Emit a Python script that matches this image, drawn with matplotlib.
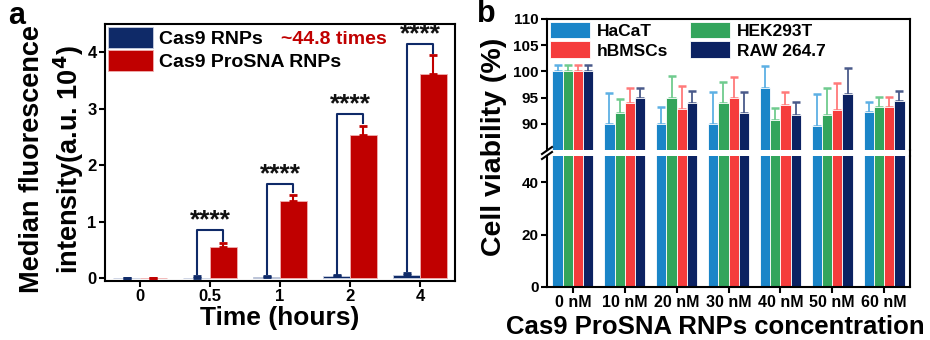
import numpy as np
import matplotlib
matplotlib.use('Agg')
import matplotlib.pyplot as plt
from matplotlib.lines import Line2D

plt.rcParams['font.family'] = ['Liberation Sans', 'DejaVu Sans']
plt.rcParams['font.weight'] = 'bold'
plt.rcParams['axes.linewidth'] = 1.5

# panel a data
times = ['0', '0.5', '1', '2', '4']
rnp_mean = [0.0, 0.01, 0.02, 0.03, 0.06]
rnp_err = [0.01, 0.03, 0.02, 0.02, 0.03]
prosna_mean = [0.0, 0.55, 1.37, 2.54, 3.61]
prosna_err = [0.01, 0.07, 0.11, 0.16, 0.34]
bracket_top = [0.85, 1.67, 2.9, 4.15]   # for 0.5, 1, 2, 4 h

# panel b data
conc = ['0 nM', '10 nM', '20 nM', '30 nM', '40 nM', '50 nM', '60 nM']
cells = ['HaCaT', 'HEK293T', 'hBMSCs', 'RAW 264.7']
hacat = [100, 90, 90, 90, 96.8, 89.6, 92.3]
hacat_err = [1.2, 5.8, 3.2, 6.0, 4.2, 6.1, 1.9]
hek = [100, 92, 95, 94, 90.7, 91.6, 93.3]
hek_err = [1.2, 2.8, 4.2, 4.0, 2.3, 5.2, 1.9]
hbmsc = [100, 94, 92.9, 95, 93.6, 92.6, 93.3]
hbmsc_err = [1.2, 2.8, 4.3, 4.0, 2.5, 5.1, 1.9]
raw = [100, 95, 94, 92, 91.7, 95.6, 94.3]
raw_err = [1.2, 1.9, 2.2, 4.0, 2.5, 5.1, 2.0]

navy = '#0f2a68'
red = '#c00000'
b_colors = ['#1a85c8', '#33a55c', '#f53c3c', '#0c2262']
b_err_colors = ['#5db0e4', '#6fcb8e', '#ff7a7a', '#4a5a8a']

W, H = 930, 340
fig = plt.figure(figsize=(9.3, 3.4), dpi=100)


def fx(px):
    return px / W


def fy(py):
    return 1 - py / H


# ---------------- panel a ----------------
ax = fig.add_axes([fx(105), fy(281), fx(455) - fx(105), fy(24) - fy(281)])
x = np.arange(len(times))
w = 0.38
ax.bar(x - w / 2, rnp_mean, w, color=navy, edgecolor='#c8cfe0', linewidth=0.6,
       label='Cas9 RNPs', zorder=2)
ax.bar(x + w / 2, prosna_mean, w, color=red, edgecolor='#f0b0b0', linewidth=0.6,
       label='Cas9 ProSNA RNPs', zorder=2)
ax.errorbar(x - w / 2, rnp_mean, yerr=[np.zeros(len(x)), rnp_err], fmt='none',
            ecolor=navy, elinewidth=1.5, capsize=3, capthick=2, zorder=3)
ax.errorbar(x + w / 2, prosna_mean, yerr=[np.zeros(len(x)), prosna_err], fmt='none',
            ecolor=red, elinewidth=1.5, capsize=3, capthick=2, zorder=3)

for i, top in zip(range(1, 5), bracket_top):
    xl = x[i] - w / 2
    xr = x[i] + w / 2
    yl = rnp_mean[i] + rnp_err[i] + 0.03
    yr = prosna_mean[i] + prosna_err[i] + 0.04
    ax.plot([xl, xl, xr, xr], [yl, top, top, yr], color=navy, lw=1.5, zorder=4)
    ax.text(x[i], top + 0.17, '****', ha='center', va='center', fontsize=19,
            fontweight='bold', color='#111111')

ax.set_xlim(-0.5, 4.5)
ax.set_ylim(-0.05, 4.5)
ax.set_xticks(x)
ax.set_xticklabels(times)
ax.set_yticks([0, 1, 2, 3, 4])
ax.tick_params(direction='out', width=1.5, length=4, labelsize=12, pad=2)
for lab in ax.get_xticklabels() + ax.get_yticklabels():
    lab.set_fontweight('bold')
ax.set_xlabel('Time (hours)', fontsize=19, fontweight='bold', labelpad=1)
ax.legend(loc='upper left', frameon=False, fontsize=14, handlelength=2.3,
          handleheight=1.3, labelspacing=0.1, handletextpad=0.35,
          borderaxespad=0.15, borderpad=0.0)
ax.text(0.655, 0.94, '~44.8 times', transform=ax.transAxes, ha='center', va='center',
        fontsize=14, fontweight='bold', color=red)

fig.text(fx(32), fy(159), 'Median fluorescence', rotation=90, ha='center',
         va='center', fontsize=19.5, fontweight='bold')
fig.text(fx(69), fy(160), r'intensity(a.u. 10$^{\mathbf{4}}$)', rotation=90,
         ha='center', va='center', fontsize=19.5, fontweight='bold')
fig.text(fx(8), fy(16), 'a', ha='left', va='center', fontsize=22, fontweight='bold')

# ---------------- panel b ----------------
L, R = fx(547), fx(910)
up = fig.add_axes([L, fy(150), R - L, fy(19) - fy(150)])
lo = fig.add_axes([L, fy(287), R - L, fy(156) - fy(287)])

series = [(hacat, hacat_err), (hek, hek_err), (hbmsc, hbmsc_err), (raw, raw_err)]
xb = np.arange(len(conc))
bw = 0.197
for a in (up, lo):
    for k, (vals, errs) in enumerate(series):
        pos = xb + (k - 1.5) * bw
        a.bar(pos, vals, bw, color=b_colors[k], edgecolor='white', linewidth=0.6,
              label=cells[k], zorder=2)
        a.errorbar(pos, vals, yerr=[np.zeros(len(xb)), errs], fmt='none',
                   ecolor=b_err_colors[k], elinewidth=1.3, capsize=3, capthick=1.8,
                   zorder=1)
    a.set_xlim(-0.5, 6.5)
    a.tick_params(direction='out', width=1.5, length=4, labelsize=11, pad=2)

up.set_ylim(85, 110)
up.set_yticks([90, 95, 100, 105, 110])
up.spines['bottom'].set_visible(False)
up.tick_params(axis='x', bottom=False, labelbottom=False)
lo.set_ylim(0, 50)
lo.set_yticks([0, 20, 40])
lo.spines['top'].set_visible(False)
lo.set_xticks(xb)
lo.set_xticklabels(conc)
lo.tick_params(axis='x', labelsize=11.5)
for a in (up, lo):
    for lab in a.get_xticklabels() + a.get_yticklabels():
        lab.set_fontweight('bold')
fig.text(fx(715), fy(327), 'Cas9 ProSNA RNPs concentration', ha='center',
         va='center', fontsize=18.5, fontweight='bold')

h, l = up.get_legend_handles_labels()
order = [0, 2, 1, 3]
up.legend([h[i] for i in order], [l[i] for i in order], loc='upper left', ncol=2,
          frameon=False, fontsize=12.5, handlelength=2.3, handleheight=1.1,
          labelspacing=0.15, handletextpad=0.4, columnspacing=1.3,
          borderaxespad=0.1, borderpad=0.05)

# right spine through the gap and break marks on the left spine
fig.add_artist(Line2D([R, R], [fy(156), fy(150)], color='k', lw=1.5))
for dy in (0, 5):
    fig.add_artist(Line2D([fx(542), fx(552)], [fy(154 + dy), fy(147 + dy)],
                          color='k', lw=1.5))

fig.text(fx(494), fy(147), 'Cell viability (%)', rotation=90, ha='center',
         va='center', fontsize=20.5, fontweight='bold')
fig.text(fx(477), fy(14), 'b', ha='left', va='center', fontsize=22, fontweight='bold')

fig.savefig('out.png', dpi=100)
